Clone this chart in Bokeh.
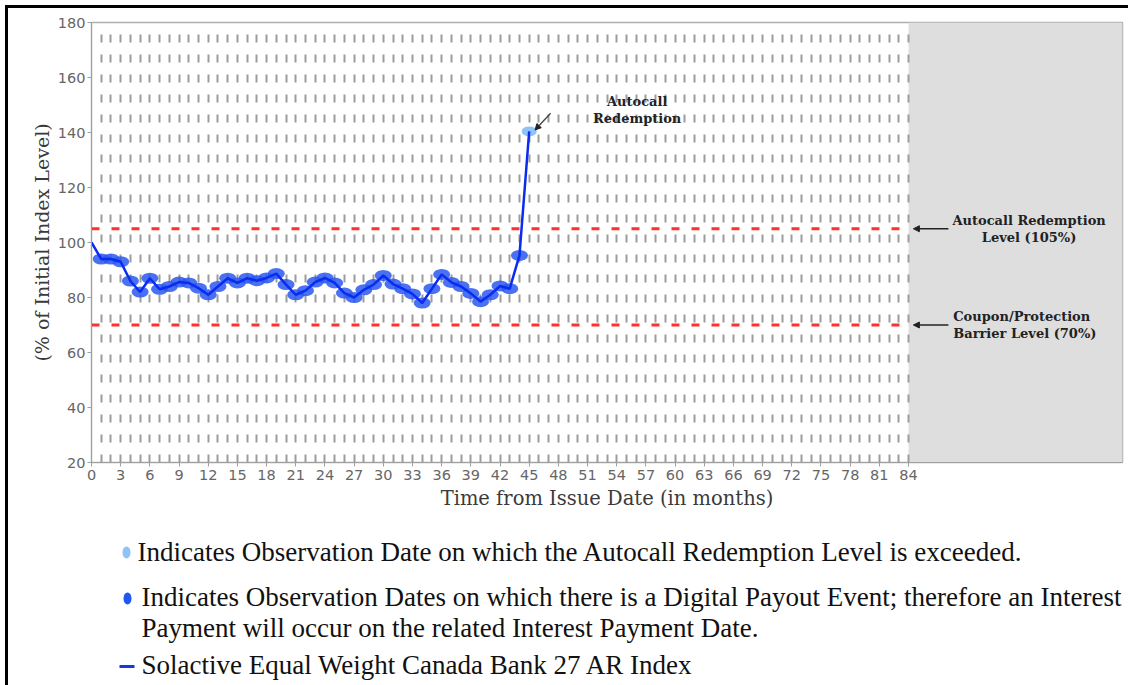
from bokeh.plotting import figure
from bokeh.models import Range1d, FixedTicker, BoxAnnotation, Arrow, NormalHead, Label
from bokeh.layouts import column
from bokeh.embed import file_html
from bokeh.resources import INLINE
from bokeh.core.properties import value

# ---------------- data ----------------
months = list(range(46))
index_level = [100, 94, 94, 93, 86, 82, 87, 83, 84, 85.6,
               85.3, 83.4, 81, 84, 87, 85.3, 87, 86.1, 87.1, 88.7,
               84.7, 81, 82.5, 85.6, 87.1, 85.3, 81.6, 80, 82.8, 84.7,
               88, 84.9, 83.2, 81.3, 78, 83.2, 88.4, 85.5, 84, 81.5,
               78.5, 81, 84.2, 83.2, 95.3, 140.4]
x_ticks = list(range(0, 85, 3))
y_ticks = [20, 40, 60, 80, 100, 120, 140, 160, 180]
term_months = 84
autocall_level = 105
barrier_level = 70
autocall_month = 45
autocall_note = "Autocall\nRedemption"
level_notes = ["Autocall Redemption\nLevel (105%)", "Coupon/Protection\nBarrier Level (70%)"]
legend_labels = [
    "Indicates Observation Date on which the Autocall Redemption Level is exceeded.",
    "Indicates Observation Dates on which there is a Digital Payout Event; therefore an Interest",
    "Payment will occur on the related Interest Payment Date.",
    "Solactive Equal Weight Canada Bank 27 AR Index",
]

DARK = "#2a58f0"
LIGHT = "#8fc3f7"
LINE = "#0a2cf0"

# ---------------- chart ----------------
p = figure(width=1120, height=507, x_range=Range1d(0, 106), y_range=Range1d(20, 180),
           output_backend="svg", toolbar_location=None,
           min_border_left=83, min_border_right=6, min_border_top=14, min_border_bottom=53)
p.background_fill_color = "white"
p.outline_line_color = "#b0b0b0"
p.outline_line_width = 1.5

p.add_layout(BoxAnnotation(left=term_months, fill_color="#dedede", fill_alpha=1.0,
                           line_color=None, level="image"))

p.ygrid.visible = False
p.xgrid.ticker = FixedTicker(ticks=list(range(1, term_months + 1)))
p.xgrid.grid_line_color = "#9c9c9c"
p.xgrid.grid_line_width = 2
p.xgrid.grid_line_dash = "8 12"

p.xaxis.ticker = FixedTicker(ticks=x_ticks, minor_ticks=[])
p.yaxis.ticker = FixedTicker(ticks=y_ticks, minor_ticks=[])
p.axis.axis_line_color = "#a0a0a0"
p.axis.major_tick_line_color = "#a0a0a0"
p.axis.major_tick_in = 0
p.axis.major_tick_out = 4
p.axis.major_label_text_font = "DejaVu Sans"
p.axis.major_label_text_font_size = "14.5px"
p.axis.major_label_text_color = "#666666"
p.xaxis.major_label_standoff = 3
p.yaxis.major_label_standoff = 2
p.xaxis.axis_label = "Time from Issue Date (in months)"
p.yaxis.axis_label = "(% of Initial Index Level)"
p.axis.axis_label_text_font = "DejaVu Serif"
p.axis.axis_label_text_font_style = "normal"
p.xaxis.axis_label_text_font_size = "19.5px"
p.yaxis.axis_label_text_font_size = "19px"
p.axis.axis_label_text_color = "#3a3a3a"
p.xaxis.axis_label_standoff = 4
p.yaxis.axis_label_standoff = 2

for lvl in (autocall_level, barrier_level):
    p.segment(x0=[0], y0=[lvl], x1=[term_months], y1=[lvl],
              line_color="#ff3030", line_width=3, line_dash="8 12")

obs_x = months[1:autocall_month]
obs_y = index_level[1:autocall_month]
p.ellipse(obs_x, obs_y, width=17, height=11, width_units="screen", height_units="screen",
          fill_color=DARK, fill_alpha=0.85, line_color=None)
p.ellipse([months[autocall_month]], [index_level[autocall_month]], width=15, height=10,
          width_units="screen", height_units="screen",
          fill_color=LIGHT, fill_alpha=1.0, line_color=None)
p.line(months, index_level, line_color=LINE, line_width=2.5)

note_font = "DejaVu Serif"
p.add_layout(Label(x=56.1, y=148.2, text=autocall_note, text_align="center",
                   text_baseline="middle", text_font=note_font, text_font_style="bold",
                   text_font_size="13px", text_color="#222222", text_line_height=1.1))
p.add_layout(Arrow(x_start=47.2, y_start=147.0, x_end=45.6, y_end=140.9,
                   line_color="#444444", line_width=1.3,
                   end=NormalHead(size=6, fill_color="#222222", line_color="#222222")))

p.add_layout(Label(x=96.4, y=autocall_level, text=level_notes[0], text_align="center",
                   text_baseline="middle", text_font=note_font, text_font_style="bold",
                   text_font_size="13px", text_color="#222222", text_line_height=1.1))
p.add_layout(Label(x=88.6, y=barrier_level, text=level_notes[1], text_align="left",
                   text_baseline="middle", text_font=note_font, text_font_style="bold",
                   text_font_size="13px", text_color="#222222", text_line_height=1.1))
for lvl in (autocall_level, barrier_level):
    p.add_layout(Arrow(x_start=88.1, y_start=lvl, x_end=84.5, y_end=lvl,
                       line_color="#222222", line_width=1.3,
                       end=NormalHead(size=6, fill_color="#222222", line_color="#222222")))

# ---------------- legend (frame aligned with the chart frame, page-pixel coords) ----------------
lg = figure(width=1120, height=170, x_range=Range1d(91, 1122), y_range=Range1d(685, 515),
            output_backend="svg", toolbar_location=None,
            min_border_left=83, min_border_right=6, min_border_top=0, min_border_bottom=0,
            x_axis_location=None, y_axis_location=None)
lg.grid.visible = False
lg.outline_line_color = None
lg.ellipse([126], [552], width=8, height=12, width_units="screen", height_units="screen",
           fill_color=LIGHT, line_color=None)
lg.ellipse([127], [598], width=8, height=12, width_units="screen", height_units="screen",
           fill_color="#1f55f0", line_color=None)
lg.segment(x0=[119], y0=[666], x1=[134], y1=[666], line_color="#1a35e8", line_width=3)
lg.text(x=[137, 141, 141, 141], y=[551, 596, 627, 664], text=legend_labels,
        text_font=value("Liberation Serif"), text_font_size="27px", text_color="#111111",
        text_baseline="alphabetic", text_align="left")

layout = column(p, lg, spacing=0,
                styles={"border-top": "3px solid black", "border-left": "3px solid black",
                        "margin-top": "5px", "margin-left": "5px"})
open("out.html", "w").write(file_html(layout, INLINE))
